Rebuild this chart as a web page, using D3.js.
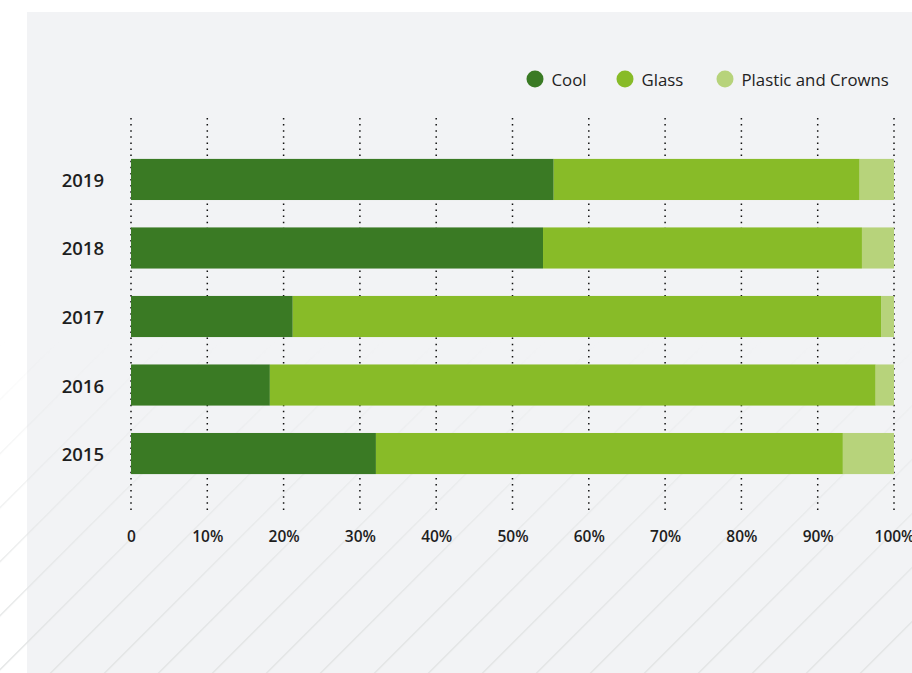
<!DOCTYPE html>
<html>
<head>
<meta charset="utf-8">
<script src="https://cdn.jsdelivr.net/npm/d3@7"></script>
<style>
  html, body { margin: 0; padding: 0; background: #ffffff; }
  svg { display: block; font-family: "Open Sans", "Noto Sans", sans-serif; }
</style>
</head>
<body>
<svg id="chart" width="912" height="673"></svg>
<script>
// Share of each packaging type per year (percent)
const years = ["2019", "2018", "2017", "2016", "2015"];
const seriesNames = ["Cool", "Glass", "Plastic and Crowns"];
const coolValues = [55.4, 54.0, 21.2, 18.2, 32.1];
const glassValues = [40.1, 41.8, 77.1, 79.4, 61.2];
const plasticValues = [4.5, 4.2, 1.7, 2.4, 6.7];
const seriesColors = ["#3a7a24", "#88bb28", "#b7d37b"];
const tickValues = [0, 10, 20, 30, 40, 50, 60, 70, 80, 90, 100];
const tickLabels = ["0", "10%", "20%", "30%", "40%", "50%", "60%", "70%", "80%", "90%", "100%"];

const svg = d3.select("#chart");
const W = 912, H = 673;

// Background panel
svg.append("rect").attr("x", 27).attr("y", 12).attr("width", W - 27).attr("height", H - 12)
  .attr("fill", "#f2f3f5");

// Diagonal hatching that fades in towards the bottom
const defs = svg.append("defs");
const pat = defs.append("pattern")
  .attr("id", "hatch").attr("patternUnits", "userSpaceOnUse")
  .attr("width", 54 / Math.SQRT2).attr("height", 10)
  .attr("patternTransform", "rotate(45)");
pat.append("line").attr("x1", 15.3).attr("x2", 15.3).attr("y1", 0).attr("y2", 10)
  .attr("stroke", "#dfe1e1").attr("stroke-width", 1.3);
const grad = defs.append("linearGradient").attr("id", "fade")
  .attr("gradientUnits", "userSpaceOnUse").attr("x1", 0).attr("y1", 340).attr("x2", 0).attr("y2", 640);
grad.append("stop").attr("offset", 0).attr("stop-color", "#fff").attr("stop-opacity", 0);
grad.append("stop").attr("offset", 1).attr("stop-color", "#fff").attr("stop-opacity", 1);
defs.append("mask").attr("id", "fadeMask")
  .append("rect").attr("width", W).attr("height", H).attr("fill", "url(#fade)");
svg.append("rect").attr("width", W).attr("height", H)
  .attr("fill", "url(#hatch)").attr("mask", "url(#fadeMask)");

// Scales
const x = d3.scaleLinear().domain([0, 100]).range([131, 894]);
const y = d3.scaleBand().domain(years).range([131.5, 501.5]).paddingInner(0.4).paddingOuter(0.4);

// Dotted vertical gridlines
svg.append("g").selectAll("line").data(tickValues).join("line")
  .attr("x1", d => x(d)).attr("x2", d => x(d))
  .attr("y1", 118).attr("y2", 511)
  .attr("stroke", "#111").attr("stroke-width", 1.5)
  .attr("stroke-dasharray", "1.5,4.6");

// Stacked bars
const table = years.map((yr, i) => ({
  year: yr, "Cool": coolValues[i], "Glass": glassValues[i], "Plastic and Crowns": plasticValues[i]
}));
const stacked = d3.stack().keys(seriesNames)(table);
svg.append("g").selectAll("g").data(stacked).join("g")
  .attr("fill", (d, i) => seriesColors[i])
  .selectAll("rect").data(d => d).join("rect")
  .attr("x", d => x(d[0]))
  .attr("width", d => x(d[1]) - x(d[0]))
  .attr("y", d => y(d.data.year))
  .attr("height", y.bandwidth());

// Year labels
svg.append("g").selectAll("text").data(years).join("text")
  .attr("x", 104).attr("y", d => y(d) + y.bandwidth() / 2)
  .attr("text-anchor", "end").attr("dominant-baseline", "central")
  .attr("font-size", 18.5).attr("font-weight", 600).attr("fill", "#1e1e1e")
  .text(d => d);

// Percentage axis labels
const xAxis = d3.axisBottom(x).tickValues(tickValues).tickSize(0)
  .tickFormat((d, i) => tickLabels[i]);
const ax = svg.append("g").attr("transform", "translate(0,528)").call(xAxis);
ax.select(".domain").remove();
ax.selectAll("text").attr("font-size", 15.5).attr("font-weight", 600).attr("fill", "#1e1e1e")
  .attr("font-family", "\"Open Sans\", \"Noto Sans\", sans-serif");

// Legend
const legendX = [535, 625, 725];
const leg = svg.append("g").selectAll("g").data(seriesNames).join("g")
  .attr("transform", (d, i) => `translate(${legendX[i]},79)`);
leg.append("circle").attr("r", 8.5).attr("fill", (d, i) => seriesColors[i]);
leg.append("text").attr("x", 16.5).attr("dominant-baseline", "central")
  .attr("font-size", 16.8).attr("fill", "#222").text(d => d);
</script>
</body>
</html>
